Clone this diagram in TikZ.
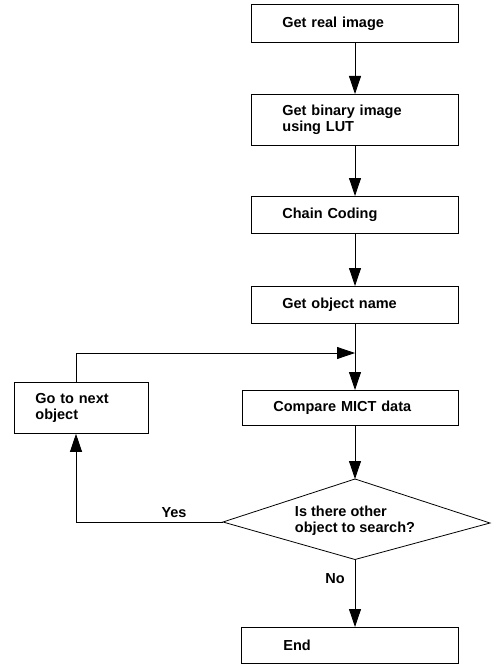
\documentclass[tikz,border=0pt]{standalone}
\usepackage{fontspec}
\setmainfont{Liberation Sans}
\usetikzlibrary{arrows.meta}
\begin{document}
\begin{tikzpicture}[x=1pt,y=-1pt,
  txt/.style={font=\bfseries\fontsize{14.5}{15.5}\selectfont},
  box/.style={txt, draw, line width=0.8pt, align=left, anchor=north west, inner ysep=0pt},
  arr/.style={line width=0.8pt, -{Triangle[length=18pt,width=12pt]}},
  lbl/.style={txt, inner sep=0pt}]
\useasboundingbox (0,0) rectangle (498,666);
\node[box, inner xsep=31pt, text width=145pt, minimum height=38pt] (b1) at (251,4) {Get real image};
\node[box, inner xsep=31pt, text width=145pt, minimum height=51pt] (b2) at (251,94) {Get binary image\\using LUT};
\node[box, inner xsep=31pt, text width=145pt, minimum height=37pt] (b3) at (251,196) {Chain Coding};
\node[box, inner xsep=31pt, text width=145pt, minimum height=37pt] (b4) at (251,286) {Get object name};
\node[box, inner xsep=31pt, text width=154pt, minimum height=35pt] (b5) at (242,390) {Compare MICT data};
\node[box, inner xsep=21pt, text width=92pt, minimum height=51pt] (go) at (14,382) {Go to next\\object};
\node[box, inner xsep=42pt, text width=133pt, minimum height=36pt] (end) at (241,627) {End};
\node[txt, align=left, inner sep=0pt] (dia) at (355,520.5) {Is there other\\object to search?};
\path (dia.center) ++(0,-41.5) coordinate (dt)
      (dia.center) ++(0,39) coordinate (db)
      (dia.center) ++(-132,1.5) coordinate (dl)
      (dia.center) ++(135,2.5) coordinate (dr);
\draw[line width=0.8pt] (dt) -- (dr) -- (db) -- (dl) -- cycle;
\coordinate (lx) at (76,0);
\coordinate (m) at (355,353);
\draw[arr] (b1.south -| m) -- (b2.north -| m);
\draw[arr] (b2.south -| m) -- (b3.north -| m);
\draw[arr] (b3.south -| m) -- (b4.north -| m);
\draw[arr] (b4.south -| m) -- (b5.north -| m);
\draw[arr] (go.north -| lx) |- (m);
\draw[arr] (b5.south -| m) -- (dt);
\draw[arr] (dl) -| (go.south -| lx);
\draw[arr] (db) -- (end.north -| db);
\node[lbl] (yes) at (174,513) {Yes};
\node[lbl] (no) at (335,579) {No};
\end{tikzpicture}
\end{document}
